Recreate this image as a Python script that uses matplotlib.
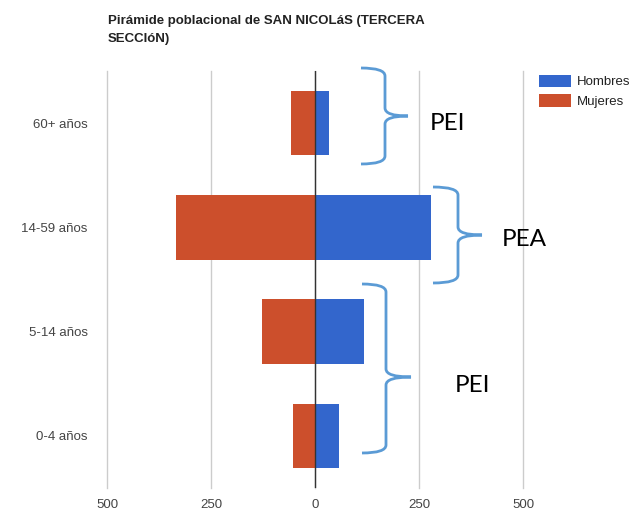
import matplotlib.pyplot as plt
from matplotlib.path import Path
from matplotlib.patches import PathPatch

plt.rcParams['font.family'] = ['Liberation Sans', 'DejaVu Sans']

# data
age_groups = ['0-4 años', '5-14 años', '14-59 años', '60+ años']
hombres = [57, 118, 279, 34]
mujeres = [53, 127, 334, 58]
ticks = [-500, -250, 0, 250, 500]
tick_labels = ['500', '250', '0', '250', '500']

W, H = 635, 512
fig = plt.figure(figsize=(W / 100, H / 100), dpi=100)
ax = fig.add_axes([107 / W, 1 - 488 / H, (523 - 107) / W, (488 - 71) / H])

ypos = range(len(age_groups))
ax.barh(ypos, hombres, height=0.62, color='#3366CC', label='Hombres', zorder=2)
ax.barh(ypos, [-m for m in mujeres], height=0.62, color='#CC4F2C', label='Mujeres', zorder=2)

ax.set_xlim(-500, 500)
ax.set_ylim(-0.5, len(age_groups) - 0.5)
ax.set_xticks(ticks)
ax.set_xticklabels(tick_labels, fontsize=9.5, color='#444444')
ax.set_yticks(list(ypos))
ax.set_yticklabels(age_groups, fontsize=9.5, color='#444444')
ax.tick_params(length=0, pad=8)
ax.tick_params(axis='y', pad=14)
ax.grid(axis='x', color='#cccccc', linewidth=1, zorder=0)
for gl in ax.get_xgridlines():
    gl.set_clip_on(False)
ax.axvline(0, color='#333333', linewidth=1, zorder=3)
for s in ax.spines.values():
    s.set_visible(False)

leg = ax.legend(loc='upper left', bbox_to_anchor=(1.01, 1.02), frameon=False,
                fontsize=9.5, handlelength=2.4, handleheight=1.1, labelspacing=0.45,
                handletextpad=0.5, labelcolor='#222222')

fig.text(108 / W, 1 - 30 / H, 'Pirámide poblacional de SAN NICOLáS (TERCERA\nSECCIóN)',
         fontsize=9.5, fontweight='bold', color='#222222', va='center', ha='left',
         linespacing=1.75)


def brace(x0, xm, xt, ytop, ytip, ybot, r=8):
    # coordinates in image pixels, y downwards
    def p(x, y):
        return (x / W, 1 - y / H)
    verts = [p(x0, ytop), p(xm, ytop), p(xm, ytop + r),
             p(xm, ytip - r), p(xm, ytip), p(xt, ytip),
             p(xm, ytip), p(xm, ytip + r),
             p(xm, ybot - r), p(xm, ybot), p(x0, ybot)]
    codes = [Path.MOVETO, Path.CURVE3, Path.CURVE3,
             Path.LINETO, Path.CURVE3, Path.CURVE3,
             Path.CURVE3, Path.CURVE3,
             Path.LINETO, Path.CURVE3, Path.CURVE3]
    fig.patches.append(PathPatch(Path(verts, codes), transform=fig.transFigure,
                                 fill=False, edgecolor='#5B9BD5', linewidth=2))


brace(361, 385, 408, 68, 116, 164)
brace(433, 458, 482, 187, 235, 283)
brace(362, 386, 411, 284, 377, 453)

for label, x, y in [('PEI', 430, 123), ('PEA', 502, 240), ('PEI', 455, 386)]:
    fig.text(x / W, 1 - y / H, label, fontsize=17.5, family=['Lato', 'DejaVu Sans'],
             va='center', ha='left', color='black')

fig.savefig('out.png', dpi=100)
